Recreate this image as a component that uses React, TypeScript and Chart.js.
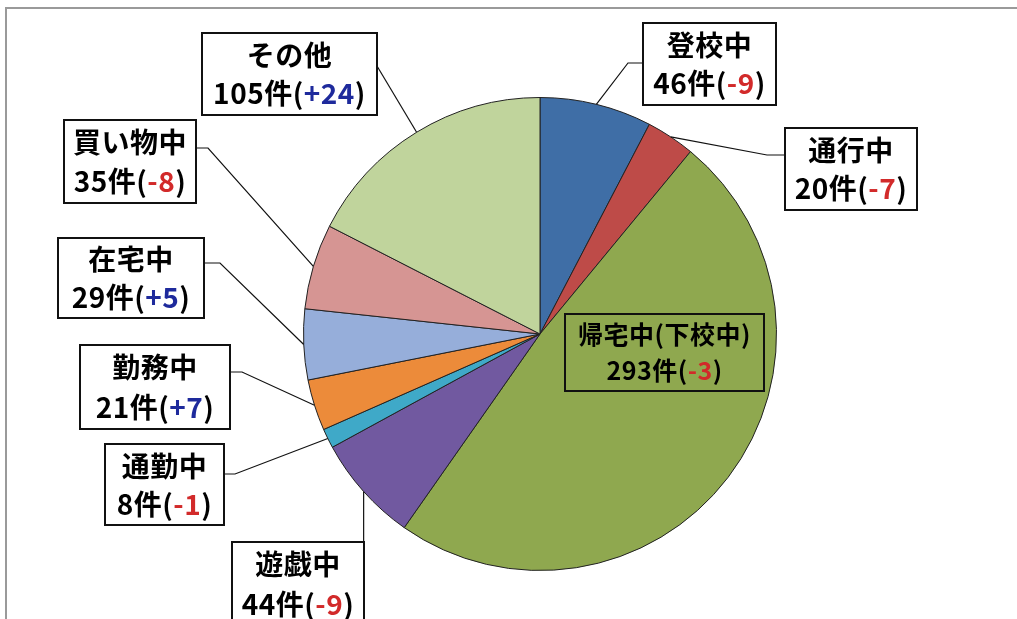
import { useEffect, useRef } from "react";
import { Chart, registerables } from "chart.js";

Chart.register(...registerables);

// ---- data ----
const categories = ["登校中", "通行中", "帰宅中(下校中)", "遊戯中", "通勤中", "勤務中", "在宅中", "買い物中", "その他"];
const counts = [46, 20, 293, 44, 8, 21, 29, 35, 105];
const changes = [-9, -7, -3, -9, -1, 7, 5, -8, 24];
const sliceColors = ["#3F6EA6", "#BE4B48", "#8FA84F", "#7159A0", "#3FA9C8", "#EC8B3A", "#96AEDA", "#D69593", "#C0D49C"];

// ---- label box layout (annotation placement) ----
type Layout = { box: [number, number, number, number]; side: "left" | "right" | "top" | "none" | "direct"; ay?: number; elbow?: number; fill: boolean; size: number };
const labelLayout: Layout[] = [
  { box: [643, 23, 133, 82], side: "left", ay: 63, elbow: 628, fill: true, size: 28 },
  { box: [785, 128, 132, 82], side: "left", ay: 155, elbow: 767, fill: true, size: 28 },
  { box: [565, 314, 199, 77], side: "none", fill: false, size: 25 },
  { box: [232, 542, 132, 84], side: "top", fill: true, size: 28 },
  { box: [105, 444, 119, 81], side: "right", ay: 474, elbow: 235, fill: true, size: 28 },
  { box: [80, 345, 150, 84], side: "right", ay: 372, elbow: 242, fill: true, size: 28 },
  { box: [58, 238, 146, 80], side: "right", ay: 263, elbow: 220, fill: true, size: 28 },
  { box: [64, 120, 132, 83], side: "right", ay: 148, elbow: 208, fill: true, size: 28 },
  { box: [202, 33, 175, 82], side: "direct", ay: 66, fill: true, size: 28 },
];

const FONT = '"Noto Sans CJK JP", "Noto Sans", sans-serif';

const framePlugin = {
  id: "frame",
  beforeDraw(chart: any) {
    const ctx = chart.ctx;
    ctx.save();
    ctx.fillStyle = "#ffffff";
    ctx.fillRect(0, 0, chart.width, chart.height);
    ctx.strokeStyle = "#9a9a9a";
    ctx.lineWidth = 2;
    ctx.beginPath();
    ctx.moveTo(6, chart.height);
    ctx.lineTo(6, 8);
    ctx.lineTo(chart.width, 8);
    ctx.stroke();
    ctx.restore();
  },
};

const labelPlugin = {
  id: "boxLabels",
  afterDraw(chart: any) {
    const ctx = chart.ctx;
    const meta = chart.getDatasetMeta(0);
    ctx.save();
    // leader lines
    ctx.strokeStyle = "#111";
    ctx.lineWidth = 1.2;
    meta.data.forEach((arc: any, i: number) => {
      const L = labelLayout[i];
      if (L.side === "none") return;
      const p = arc.getProps(["x", "y", "startAngle", "endAngle", "outerRadius"], true);
      const mid = (p.startAngle + p.endAngle) / 2;
      const sx = p.x + Math.cos(mid) * p.outerRadius;
      const sy = p.y + Math.sin(mid) * p.outerRadius;
      const [bx, by, bw] = L.box;
      ctx.beginPath();
      ctx.moveTo(sx, sy);
      if (L.side === "top") {
        ctx.lineTo(sx, by);
      } else if (L.side === "direct") {
        ctx.lineTo(bx + bw, L.ay!);
      } else {
        const ex = L.side === "left" ? bx : bx + bw;
        ctx.lineTo(L.elbow!, L.ay!);
        ctx.lineTo(ex, L.ay!);
      }
      ctx.stroke();
    });
    // boxes and text
    meta.data.forEach((_arc: any, i: number) => {
      const L = labelLayout[i];
      const [bx, by, bw, bh] = L.box;
      if (L.fill) {
        ctx.fillStyle = "#ffffff";
        ctx.fillRect(bx, by, bw, bh);
      }
      ctx.strokeStyle = "#111";
      ctx.lineWidth = 2;
      ctx.strokeRect(bx, by, bw, bh);
      const cx = bx + bw / 2;
      ctx.font = `bold ${L.size}px ${FONT}`;
      (ctx as any).letterSpacing = "0.5px";
      ctx.textBaseline = "middle";
      ctx.textAlign = "left";
      const l1 = categories[i];
      const w1 = ctx.measureText(l1).width;
      ctx.fillStyle = "#000";
      const y1 = by + bh * 0.27;
      const y2 = by + bh * 0.74;
      ctx.fillText(l1, cx - w1 / 2, y1);
      const ch = changes[i];
      const parts = [
        { t: `${counts[i]}件(`, c: "#000" },
        { t: ch > 0 ? `+${ch}` : `-${Math.abs(ch)}`, c: ch > 0 ? "#1E2A9C" : "#D22A2A" },
        { t: ")", c: "#000" },
      ];
      const tw = parts.reduce((s, q) => s + ctx.measureText(q.t).width, 0);
      let x = cx - tw / 2;
      parts.forEach((q) => {
        ctx.fillStyle = q.c;
        ctx.fillText(q.t, x, y2);
        x += ctx.measureText(q.t).width;
      });
    });
    ctx.restore();
  },
};

export default function App() {
  const ref = useRef<HTMLCanvasElement | null>(null);
  useEffect(() => {
    document.body.style.margin = "0";
    const canvas = ref.current!;
    const chart = new Chart(canvas, {
      type: "pie",
      data: {
        labels: categories,
        datasets: [
          {
            data: counts,
            backgroundColor: sliceColors,
            borderColor: "#222",
            borderWidth: 1,
          },
        ],
      },
      options: {
        responsive: false,
        animation: false,
        devicePixelRatio: 1,
        layout: { padding: { left: 303, right: 240, top: 97, bottom: 48 } },
        plugins: { legend: { display: false }, tooltip: { enabled: false } },
      },
      plugins: [framePlugin, labelPlugin],
    });
    return () => chart.destroy();
  }, []);
  return <canvas ref={ref} width={1017} height={619} style={{ display: "block" }} />;
}
